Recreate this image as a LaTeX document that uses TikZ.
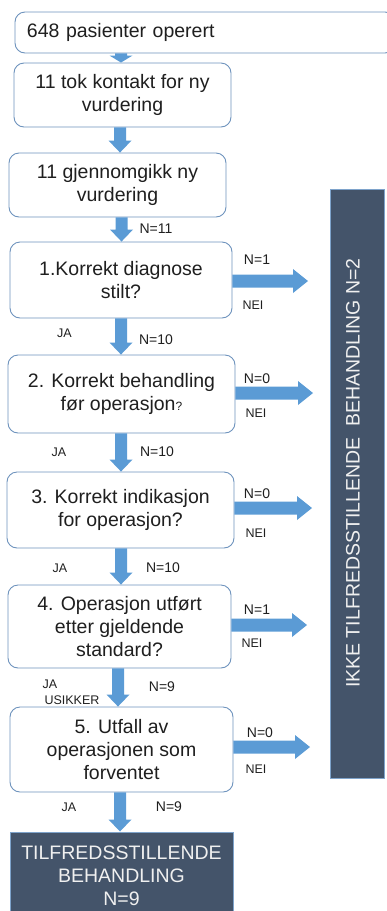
\documentclass[tikz,border=0pt]{standalone}
\usepackage{fontspec}
\setmainfont{Liberation Sans}
\usetikzlibrary{calc}
\definecolor{boxline}{HTML}{6E93BD}
\definecolor{arrowblue}{HTML}{5B9BD5}
\definecolor{slate}{HTML}{44546A}
\definecolor{slateline}{HTML}{7EA3CB}
\definecolor{txt}{HTML}{1F1F1F}
\newcommand\dnarrow[4]{%
  \fill[blockarrow] let \p1=(#2.south), \p2=(#3.north) in
  (#1-6,\y1) -- (#1+6,\y1) -- (#1+6,\y2+#4) -- (#1+11.5,\y2+#4) -- (#1,\y2)
  -- (#1-11.5,\y2+#4) -- (#1-6,\y2+#4) -- cycle;}
\newcommand\rtarrow[2]{%
  \fill[blockarrow] let \p1=(#1.east), \p2=(#2) in
  (\x1,\y2+6.5) -- (\x2-15,\y2+6.5) -- (\x2-15,\y2+12) -- (\x2,\y2)
  -- (\x2-15,\y2-12) -- (\x2-15,\y2-6.5) -- (\x1,\y2-6.5) -- cycle;}
\tikzset{
  every node/.style={font=\fontsize{19.5}{23}\selectfont, text=txt},
  qbox/.style={draw=boxline, line width=0.9pt, rounded corners=10pt, fill=white,
    align=center, inner sep=0pt},
  darkbox/.style={draw=slateline, line width=1pt, fill=slate, align=center, inner sep=0pt},
  whitetext/.style={text=white!94!black},
  nlab/.style={font=\fontsize{14}{16}\selectfont},
  smalllab/.style={font=\fontsize{12.5}{14}\selectfont},
  blockarrow/.style={fill=arrowblue},
}
\begin{document}
\begin{tikzpicture}[x=1pt,y=1pt]
\useasboundingbox (0,0) rectangle (386,-911);
% boxes
\node[qbox, minimum width=380, minimum height=41, text width=356, align=left] (b0) at (205,-32.5) {648 pasienter operert};
\node[qbox, minimum width=217, minimum height=64] (b1) at (122.5,-95) {11 tok kontakt for ny\\vurdering};
\node[qbox, minimum width=217, minimum height=64] (b2) at (117.5,-185) {11 gjennomgikk ny\\vurdering};
\node[qbox, minimum width=222, minimum height=76] (q1) at (121,-280) {1.Korrekt diagnose\\stilt?};
\node[qbox, minimum width=227, minimum height=78] (q2) at (121.5,-394) {2. Korrekt behandling\\før operasjon{\fontsize{12}{14}\selectfont ?}};
\node[qbox, minimum width=227, minimum height=76] (q3) at (120.5,-510) {3. Korrekt indikasjon\\for operasjon?};
\node[qbox, minimum width=223, minimum height=83] (q4) at (119.5,-626.5) {4. Operasjon utført\\etter gjeldende\\standard?};
\node[qbox, minimum width=223, minimum height=85] (q5) at (121.5,-749.5) {5. Utfall av\\operasjonen som\\forventet};
\node[darkbox, whitetext, minimum width=223, minimum height=88] (ok) at (121.5,-876) {TILFREDSSTILLENDE\\BEHANDLING\\N=9};
\node[darkbox, minimum width=54, minimum height=589] (nok) at (357,-483.5) {};
\node[whitetext, rotate=90] (noktext) at (353,-473) {IKKE TILFREDSSTILLENDE\ \ BEHANDLING N=2};
% down arrows
\dnarrow{121}{b0}{b1}{7}
\dnarrow{120}{b1}{b2}{12}
\dnarrow{121.5}{b2}{q1}{12}
\dnarrow{121}{q1}{q2}{12}
\dnarrow{121}{q2}{q3}{12}
\dnarrow{121}{q3}{q4}{12}
\dnarrow{118}{q4}{q5}{12}
\dnarrow{120}{q5}{ok}{12}
% right arrows
\coordinate (t1) at (308,-281);
\coordinate (t2) at (313,-393);
\coordinate (t3) at (312,-508);
\coordinate (t4) at (307,-625);
\coordinate (t5) at (310,-747);
\rtarrow{q1}{t1}
\rtarrow{q2}{t2}
\rtarrow{q3}{t3}
\rtarrow{q4}{t4}
\rtarrow{q5}{t5}
% labels
\node[nlab] (l0) at (156,-229) {N=11};
\node[nlab] (l1a) at (257,-260) {N=1};
\node[smalllab] (l1b) at (253,-305) {NEI};
\node[smalllab] (l1c) at (64.5,-333) {JA};
\node[nlab] (l1d) at (156,-340) {N=10};
\node[nlab] (l2a) at (257,-379) {N=0};
\node[smalllab] (l2b) at (256,-413) {NEI};
\node[smalllab] (l2c) at (59,-452) {JA};
\node[nlab] (l2d) at (157,-452) {N=10};
\node[nlab] (l3a) at (257,-494) {N=0};
\node[smalllab] (l3b) at (256,-533) {NEI};
\node[smalllab] (l3c) at (60,-568) {JA};
\node[nlab] (l3d) at (163,-568) {N=10};
\node[nlab] (l4a) at (257,-610) {N=1};
\node[smalllab] (l4b) at (252,-643) {NEI};
\node[smalllab] (l4c) at (50,-684) {JA};
\node[smalllab] (l4e) at (72,-700) {USIKKER};
\node[nlab] (l4d) at (162,-687) {N=9};
\node[nlab] (l5a) at (260,-733) {N=0};
\node[smalllab] (l5b) at (256,-769) {NEI};
\node[smalllab] (l5c) at (69,-807) {JA};
\node[nlab] (l5d) at (169,-807) {N=9};
\end{tikzpicture}
\end{document}
